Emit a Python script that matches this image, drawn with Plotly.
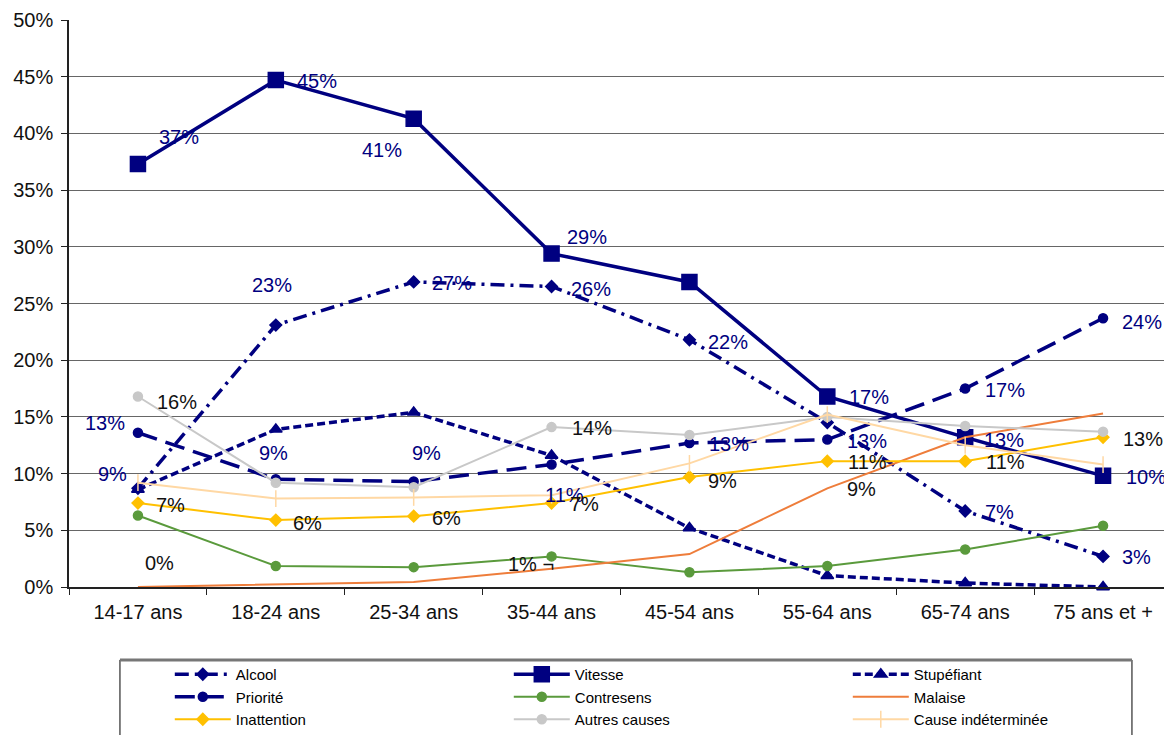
import plotly.graph_objects as go

categories = ["14-17 ans", "18-24 ans", "25-34 ans", "35-44 ans",
              "45-54 ans", "55-64 ans", "65-74 ans", "75 ans et +"]

alcool = [8.7, 23.1, 26.9, 26.5, 21.8, 14.5, 6.7, 2.7]
vitesse = [37.3, 44.7, 41.3, 29.4, 26.9, 16.8, 13.2, 9.8]
stupefiant = [8.6, 13.9, 15.4, 11.6, 5.2, 1.0, 0.35, 0.0]
priorite = [13.6, 9.5, 9.3, 10.8, 12.7, 13.0, 17.5, 23.7]
contresens = [6.3, 1.85, 1.75, 2.7, 1.3, 1.85, 3.3, 5.4]
malaise = [0.0, 0.2, 0.45, 1.6, 2.9, 8.7, 13.2, 15.3]
inattention = [7.4, 5.9, 6.25, 7.4, 9.7, 11.1, 11.1, 13.2]
autres = [16.8, 9.2, 8.8, 14.1, 13.4, 15.0, 14.2, 13.7]
indeterminee = [9.2, 7.8, 7.9, 8.1, 10.9, 15.2, 12.5, 10.8]

y_ticks = [0, 5, 10, 15, 20, 25, 30, 35, 40, 45, 50]

NAVY = "#000080"
FONT = "Liberation Sans, Arial, sans-serif"

series = [
    dict(name="Alcool", y=alcool, color=NAVY, width=3.5, dash="14px,6px,3px,6px",
         symbol="diamond", size=9),
    dict(name="Vitesse", y=vitesse, color=NAVY, width=3.5, dash="solid",
         symbol="square", size=15),
    dict(name="Stupéfiant", y=stupefiant, color=NAVY, width=3.5, dash="8px,4px",
         symbol="triangle-up", size=11),
    dict(name="Priorité", y=priorite, color=NAVY, width=3.5, dash="20px,9px",
         symbol="circle", size=9),
    dict(name="Contresens", y=contresens, color="#5a9a3c", width=2, dash="solid",
         symbol="circle", size=9),
    dict(name="Malaise", y=malaise, color="#ee7d3b", width=2, dash="solid",
         symbol=None, size=0),
    dict(name="Inattention", y=inattention, color="#ffc000", width=2, dash="solid",
         symbol="diamond", size=9),
    dict(name="Autres causes", y=autres, color="#c8c8c8", width=2, dash="solid",
         symbol="circle", size=9),
    dict(name="Cause indéterminée", y=indeterminee, color="#ffd8a4", width=2,
         dash="solid", symbol="line-ns", size=12),
]

fig = go.Figure()
for s in series:
    mode = "lines+markers" if s["symbol"] else "lines"
    marker = dict(symbol=s["symbol"], size=s["size"], color=s["color"],
                  line=dict(color=s["color"], width=1.5)) if s["symbol"] else None
    fig.add_trace(go.Scatter(
        x=categories, y=s["y"], name=s["name"], mode=mode,
        line=dict(color=s["color"], width=s["width"], dash=s["dash"]),
        marker=marker, cliponaxis=False, hoverinfo="skip",
    ))

# value labels: (series name, category index, text, xshift, yshift, colour)
labels = [
    ("Vitesse", 0, "37%", 41, 27, NAVY),
    ("Vitesse", 1, "45%", 41, -1, NAVY),
    ("Vitesse", 2, "41%", -32, -31, NAVY),
    ("Vitesse", 3, "29%", 35, 17, NAVY),
    ("Vitesse", 5, "17%", 42, -1, NAVY),
    ("Vitesse", 6, "13%", 39, -3, NAVY),
    ("Vitesse", 7, "10%", 43, -1, NAVY),
    ("Alcool", 0, "9%", -25, 14, NAVY),
    ("Alcool", 1, "23%", -4, 40, NAVY),
    ("Alcool", 2, "27%", 38, -1, NAVY),
    ("Alcool", 3, "26%", 39, -3, NAVY),
    ("Alcool", 4, "22%", 39, -2, NAVY),
    ("Alcool", 6, "7%", 34, -1, NAVY),
    ("Alcool", 7, "3%", 33, -1, NAVY),
    ("Priorité", 0, "13%", -33, 10, NAVY),
    ("Priorité", 1, "9%", -2, 26, NAVY),
    ("Priorité", 2, "9%", 13, 29, NAVY),
    ("Priorité", 3, "11%", 13, -30, NAVY),
    ("Priorité", 4, "13%", 40, -1, NAVY),
    ("Priorité", 5, "13%", 40, -1, NAVY),
    ("Priorité", 6, "17%", 40, -1, NAVY),
    ("Priorité", 7, "24%", 39, -4, NAVY),
    ("Autres causes", 0, "16%", 39, -6, "#111111"),
    ("Autres causes", 3, "14%", 40, -1, "#111111"),
    ("Autres causes", 7, "13%", 40, -7, "#111111"),
    ("Inattention", 0, "7%", 33, -2, "#111111"),
    ("Inattention", 1, "6%", 32, -3, "#111111"),
    ("Inattention", 2, "6%", 33, -2, "#111111"),
    ("Inattention", 3, "7%", 33, -1, "#111111"),
    ("Inattention", 4, "9%", 33, -4, "#111111"),
    ("Inattention", 5, "11%", 40, -1, "#111111"),
    ("Inattention", 6, "11%", 40, -1, "#111111"),
    ("Malaise", 0, "0%", 22, 24, "#111111"),
    ("Malaise", 5, "9%", 34, -1, "#111111"),
    ("Contresens", 3, "1% ¬", -21, -8, "#111111"),
]
by_name = {s["name"]: s["y"] for s in series}
for name, i, txt, dx, dy, col in labels:
    fig.add_annotation(x=categories[i], y=by_name[name][i], text=txt,
                       showarrow=False, xshift=dx, yshift=dy,
                       font=dict(family=FONT, size=20, color=col))

# legend frame (decoration)
fig.add_shape(type="rect", xref="paper", yref="paper",
              x0=0.0462, x1=0.9637, y0=-0.30, y1=-0.1287,
              line=dict(color="black", width=1), fillcolor="rgba(0,0,0,0)",
              layer="above")
fig.add_shape(type="line", xref="paper", yref="paper",
              x0=0.0462, x1=0.9637, y0=-0.1287, y1=-0.1287,
              line=dict(color="#777", width=3), layer="above")

# page body has an 8px margin: figure is 1164x727 so the plot sits as in the reference
fig.update_layout(
    width=1164, height=727,
    margin=dict(l=61, r=0, t=12, b=148, autoexpand=False),
    paper_bgcolor="white", plot_bgcolor="white",
    font=dict(family=FONT, color="black"),
    showlegend=True,
    legend=dict(
        orientation="h", xref="container", yref="container",
        x=0.139, y=0.1059, xanchor="left", yanchor="top",
        entrywidth=268, entrywidthmode="pixels", itemwidth=56,
        borderwidth=0, bgcolor="rgba(0,0,0,0)",
        font=dict(family=FONT, size=15, color="black"),
        traceorder="normal",
    ),
)
fig.update_xaxes(
    type="category", range=[-0.5, 7.5], showgrid=False, automargin=False,
    showline=True, linecolor="#222", linewidth=1.5,
    ticks="outside", tickson="boundaries", ticklen=6, tickcolor="#222",
    ticklabelstandoff=6,
    tickfont=dict(family=FONT, size=20, color="#111"),
)
fig.update_yaxes(
    range=[0, 50], tickvals=y_ticks, ticktext=[f"{v}%" for v in y_ticks],
    showgrid=True, gridcolor="#666", gridwidth=1, zeroline=False, automargin=False,
    showline=True, linecolor="#222", linewidth=1.5,
    ticks="outside", ticklen=6, tickcolor="#222",
    ticklabelstandoff=4,
    tickfont=dict(family=FONT, size=20, color="#111"),
)

fig.write_html("out.html")
